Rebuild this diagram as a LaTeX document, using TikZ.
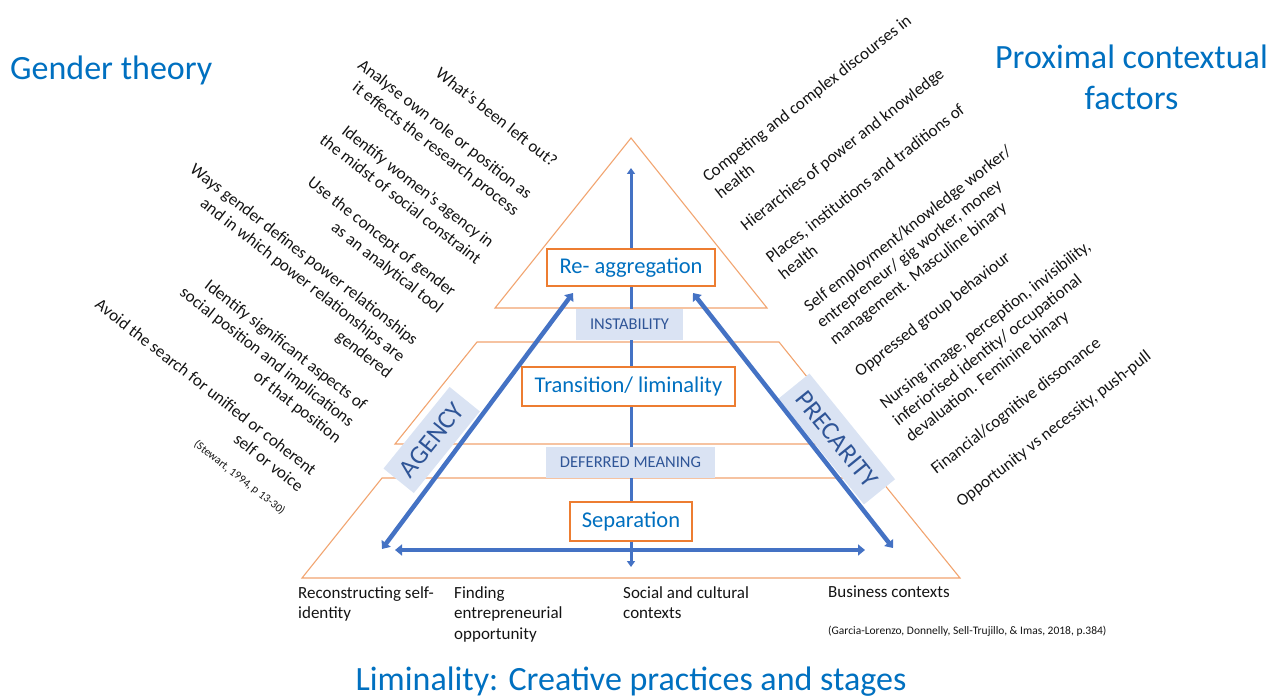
\documentclass[tikz,border=0pt]{standalone}
\usepackage{fontspec}
\setmainfont{Carlito}
\usetikzlibrary{arrows.meta}
\definecolor{edge}{RGB}{241,163,110}
\definecolor{boxline}{RGB}{237,125,49}
\definecolor{flow}{RGB}{68,114,196}
\definecolor{title}{RGB}{0,112,192}
\definecolor{bandfill}{RGB}{218,227,243}
\definecolor{bandtext}{RGB}{47,85,151}
\definecolor{ink}{RGB}{20,20,20}
\begin{document}
\begin{tikzpicture}[x=1pt,y=-1pt,
  tier/.style={draw=edge, line width=1.1pt, line join=miter},
  stage/.style={draw=boxline, line width=1.2pt, fill=white, text=title, inner sep=0,
    font=\fontsize{22.5}{27}\selectfont},
  band/.style={fill=bandfill, text=bandtext, inner sep=0, font=\fontsize{16.5}{20}\selectfont},
  force/.style={fill=bandfill, text=bandtext, inner sep=0, font=\fontsize{26}{30}\selectfont},
  thinflow/.style={draw=flow, line width=3pt, {Triangle[width=8pt,length=6pt]}-{Triangle[width=8pt,length=6pt]}},
  thickflow/.style={draw=flow, line width=4.5pt, {Triangle[width=11pt,length=7pt]}-{Triangle[width=11pt,length=7pt]}},
  heading/.style={text=title, inner sep=0, font=\fontsize{34}{41}\selectfont},
  note/.style={text=ink, inner sep=0, font=\fontsize{17}{20.8}\selectfont},
  smallnote/.style={text=ink, inner sep=0},
]
\useasboundingbox (0,0) rectangle (1286,698);

% pyramid tiers
\draw[tier] (631,138) -- (767,308) -- (495,308) -- cycle;
\draw[tier] (477,342) -- (779,342) -- (861,444) -- (395,444) -- cycle;
\draw[tier] (382,478) -- (879,478) -- (960,578) -- (302,578) -- cycle;

% central axis
\coordinate (axtop) at (631,168);
\coordinate (axbot) at (631,567);
\draw[thinflow] (axbot) -- (axtop);

% stage boxes and bands
\node[stage, minimum width=168pt, minimum height=37pt] (reagg) at (631,267.5) {Re- aggregation};
\node[band, minimum width=107pt, minimum height=31pt] (instab) at (629.5,324.5) {INSTABILITY};
\node[stage, minimum width=213pt, minimum height=39pt] (trans) at (628.5,386.5) {Transition/ liminality};
\node[band, minimum width=169pt, minimum height=31pt] (defer) at (630.5,462.5) {DEFERRED MEANING};
\node[stage, minimum width=122pt, minimum height=39pt] (sep) at (631,521.5) {Separation};

% side forces
\node[force, rotate=51, minimum width=105pt, minimum height=39pt] (agency) at (431.7,440) {AGENCY};
\node[force, rotate=-51, minimum width=136pt, minimum height=40pt] (precar) at (836.7,439) {PRECARITY};

% arrows
\coordinate (al) at (382,549);
\coordinate (at) at (573,293);
\coordinate (bt) at (693,293);
\coordinate (br) at (893,548);
\coordinate (hl) at (395,550);
\coordinate (hr) at (865,550);
\draw[thickflow] (al) -- (at);
\draw[thickflow] (bt) -- (br);
\draw[thickflow] (hl) -- (hr);

% headings
\node[heading, anchor=base west] (gender) at (10,80) {Gender theory};
\node[heading, anchor=north, align=center] (proximal) at (1131.5,45) {Proximal contextual\\factors};
\node[heading, anchor=base] (liminal) at (631,690) {Liminality: Creative practices and stages};

% gender theory list
\node[note, rotate=-38, align=right, anchor=north east] (gtlist) at (559.4,158) {%
What’s been left out?\\[20.2pt]
Analyse own role or position as\\it effects the research process\\[20.2pt]
Identify women’s agency in\\the midst of social constraint\\[20.2pt]
Use the concept of gender\\as an analytical tool\\[20.2pt]
Ways gender defines power relationships\\and in which power relationships are\\gendered\\[20.2pt]
Identify significant aspects of\\social position and implications\\of that position\\[20.2pt]
Avoid the search for unified or coherent\\self or voice};
\node[smallnote, rotate=-38, anchor=base east, font=\fontsize{11.4}{13}\selectfont] (stewart) at (281.8,514.8) {(Stewart, 1994, p 13-30)};

% proximal factors list
\node[note, rotate=38, align=left, anchor=north west] (pclist) at (700.5,173.3) {%
Competing and complex discourses in\\health\\[20.2pt]
Hierarchies of power and knowledge\\[20.2pt]
Places, institutions and traditions of\\health\\[20.2pt]
Self employment/knowledge worker/\\entrepreneur/ gig worker, money\\management. Masculine binary\\[20.2pt]
Oppressed group behaviour\\[20.2pt]
Nursing image, perception, invisibility,\\inferiorised identity/ occupational\\devaluation. Feminine binary\\[20.2pt]
Financial/cognitive dissonance\\[20.2pt]
Opportunity vs necessity, push-pull};

% base labels
\node[note, align=left, anchor=north west] (lab1) at (298,586) {Reconstructing self-\\identity};
\node[note, align=left, anchor=north west] (lab2) at (454,586) {Finding\\entrepreneurial\\opportunity};
\node[note, align=left, anchor=north west] (lab3) at (623,586) {Social and cultural\\contexts};
\node[note, align=left, anchor=north west] (lab4) at (828,586) {Business contexts};
\node[smallnote, anchor=base west, font=\fontsize{11.5}{13}\selectfont] (cite) at (828,634) {(Garcia-Lorenzo, Donnelly, Sell-Trujillo, \& Imas, 2018, p.384)};
\end{tikzpicture}
\end{document}
